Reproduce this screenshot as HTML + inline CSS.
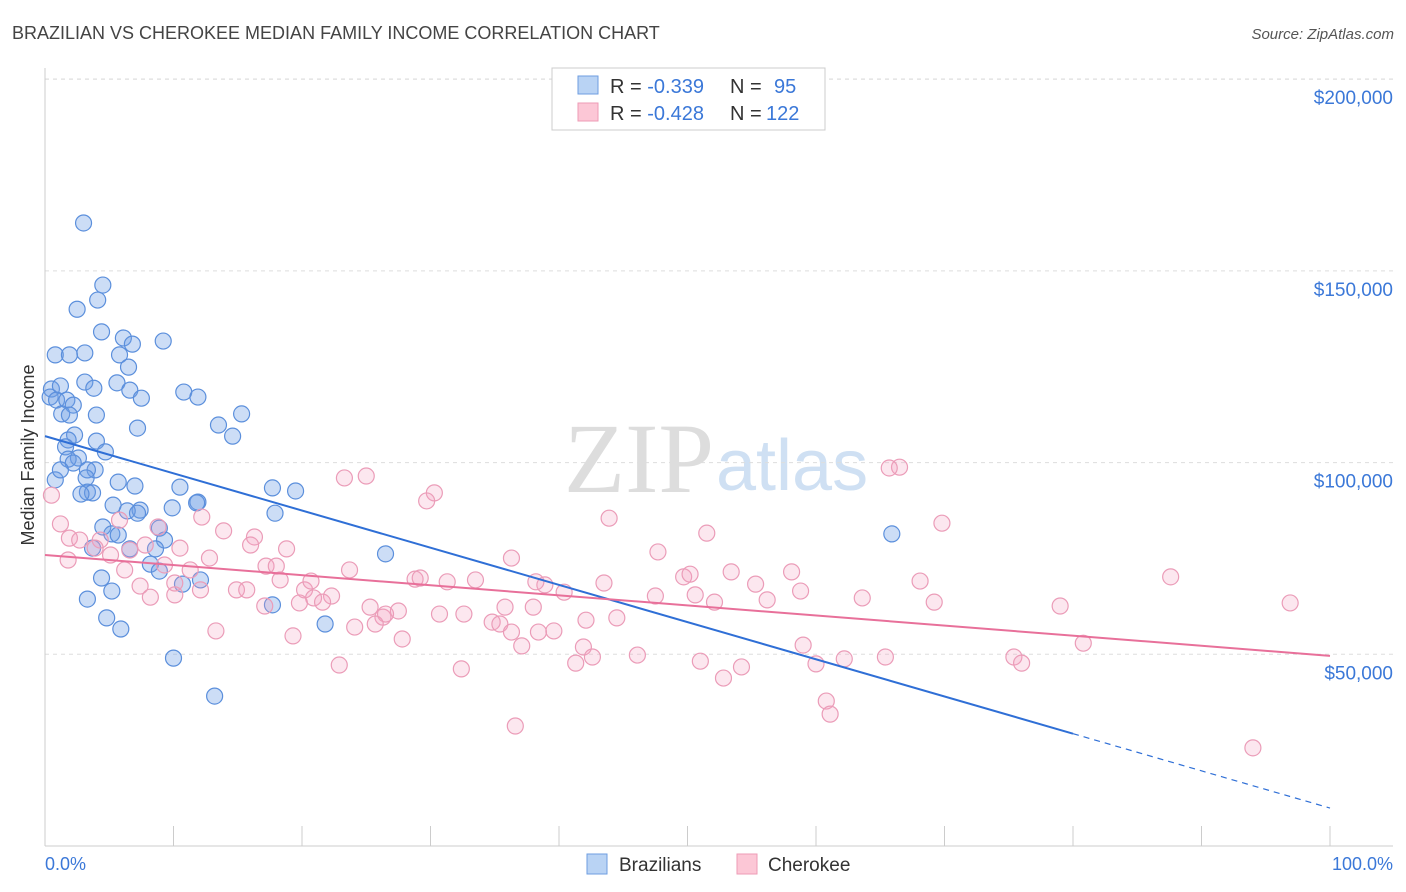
<!DOCTYPE html>
<html><head><meta charset="utf-8"><style>
body{margin:0;background:#fff;font-family:"Liberation Sans",sans-serif;}
svg{display:block}
</style></head><body>
<svg width="1406" height="892" xmlns="http://www.w3.org/2000/svg" font-family="Liberation Sans, sans-serif">
<text x="12" y="39" font-size="18" fill="#444">BRAZILIAN VS CHEROKEE MEDIAN FAMILY INCOME CORRELATION CHART</text>
<text x="1394" y="39" font-size="15" fill="#555" font-style="italic" text-anchor="end">Source: ZipAtlas.com</text>
<text x="714" y="492" font-size="100" fill="#ddd" text-anchor="end" font-family="Liberation Serif, serif">ZIP</text>
<text x="716" y="490" font-size="72" fill="#cfe0f3">atlas</text>
<g id="grid"></g>
<g id="axes"></g>
<g id="pts"></g>
<g id="trend"></g>
<text transform="translate(34,455) rotate(-90)" font-size="18" fill="#333" text-anchor="middle">Median Family Income</text>
<text x="45" y="870" font-size="18" fill="#3b78d8">0.0%</text>
<text x="1393" y="870" font-size="18" fill="#3b78d8" text-anchor="end">100.0%</text>
<g>
<rect x="552" y="68" width="273" height="62" fill="#fff" stroke="#ccc"/>
<rect x="578" y="76" width="20" height="18" fill="#b9d3f4" stroke="#6e9ee0"/>
<rect x="578" y="103" width="20" height="18" fill="#fcc7d6" stroke="#ee9bb6"/>
<text x="610" y="93" font-size="20" fill="#333">R = <tspan fill="#3b78d8">-0.339</tspan><tspan x="730">N = </tspan><tspan x="774" fill="#3b78d8">95</tspan></text>
<text x="610" y="120" font-size="20" fill="#333">R = <tspan fill="#3b78d8">-0.428</tspan><tspan x="730">N = </tspan><tspan x="766" fill="#3b78d8">122</tspan></text>
</g>
<g>
<rect x="587" y="854" width="20" height="20" fill="#b9d3f4" stroke="#6e9ee0"/>
<text x="619" y="871" font-size="19" fill="#333">Brazilians</text>
<rect x="737" y="854" width="20" height="20" fill="#fcc7d6" stroke="#ee9bb6"/>
<text x="768" y="871" font-size="19" fill="#333">Cherokee</text>
</g>
</svg>
<script>
const yTicks=[50000,100000,150000,200000];
const yTickLabels=["$50,000","$100,000","$150,000","$200,000"];
const bluePct=[3.0,4.5,4.1,2.5,4.4,6.1,9.2,6.8,0.8,1.9,3.1,5.8,6.5,3.1,5.6,0.5,1.2,3.8,6.6,7.5,10.8,11.9,0.4,0.9,1.7,2.2,1.3,1.9,4.0,15.3,13.5,7.2,14.6,2.3,1.8,4.0,1.6,4.7,2.6,1.8,2.2,3.9,3.3,3.2,5.7,7.0,10.5,17.7,19.5,3.3,3.7,2.8,11.9,11.8,5.3,7.4,6.4,9.9,7.2,17.9,4.5,8.9,5.2,5.7,9.3,3.7,6.6,8.6,26.5,65.9,8.2,8.9,10.7,12.1,4.4,5.2,3.3,17.7,4.8,5.9,21.8,10.0,13.2,0.8,1.2];
const blueVal=[162.5,146.3,142.4,140.0,134.1,132.5,131.7,130.9,128.1,128.1,128.6,128.1,124.9,121.0,120.8,119.2,120.0,119.4,118.9,116.8,118.4,117.1,117.1,116.3,116.3,115.0,112.7,112.4,112.4,112.7,109.8,109.0,106.9,107.2,105.9,105.6,104.1,102.8,101.2,100.9,99.9,98.1,98.1,96.0,94.9,93.9,93.6,93.4,92.6,92.3,92.1,91.8,89.7,89.5,88.9,87.6,87.4,88.2,86.8,86.8,83.2,82.9,81.4,81.1,79.8,77.7,77.5,77.5,76.2,81.4,73.5,71.7,68.3,69.4,69.9,66.5,64.4,62.9,59.5,56.6,57.9,49.0,39.1,95.5,98.1];
const pinkPct=[66.5,65.7,23.3,25.0,30.3,29.7,69.8,43.9,51.5,1.2,1.9,2.7,4.3,8.8,12.2,13.9,16.3,5.8,7.8,16.0,18.8,47.7,36.3,3.9,6.6,10.5,6.2,9.3,11.3,12.8,17.2,18.0,23.7,53.4,58.1,87.6,68.1,38.9,43.5,49.7,50.2,55.3,7.4,10.1,14.9,15.7,18.3,20.2,20.7,20.9,22.3,28.8,29.2,31.3,33.5,38.2,40.4,47.5,50.6,52.1,56.2,58.8,63.6,69.2,79.0,96.9,17.1,19.8,21.6,25.3,26.3,27.5,30.7,32.6,35.8,38.0,34.8,35.4,42.1,44.5,26.5,24.1,25.7,13.3,19.3,27.8,36.3,38.4,39.6,37.1,41.9,42.6,46.1,59.0,80.8,75.4,76.0,65.4,62.2,60.0,41.3,51.0,54.2,52.8,22.9,32.4,60.8,61.1,36.6,94.0,0.5,1.8,5.1,12.1,10.1,8.2];
const pinkVal=[98.8,98.6,96.0,96.5,92.1,90.0,84.2,85.5,81.6,84.0,80.3,79.8,79.8,83.2,85.8,82.2,80.6,85.0,78.5,78.5,77.5,76.7,75.1,77.7,77.2,77.7,72.0,73.3,72.0,75.1,73.0,73.0,72.0,71.5,71.5,70.2,69.1,68.1,68.6,70.2,70.9,68.3,67.8,65.5,66.8,66.8,69.4,66.8,69.1,64.7,65.2,69.6,69.9,68.9,69.4,68.9,66.2,65.2,65.5,63.6,64.2,66.5,64.7,63.6,62.6,63.4,62.6,63.4,63.6,62.3,59.7,61.3,60.5,60.5,62.3,62.3,58.4,57.9,58.9,59.5,60.5,57.1,57.9,56.1,54.8,54.0,55.8,55.8,56.1,52.2,51.9,49.3,49.8,52.4,52.9,49.3,47.7,49.3,48.8,47.5,47.7,48.2,46.7,43.8,47.2,46.2,37.8,34.4,31.3,25.6,91.5,74.6,75.9,66.8,68.6,64.9];
const blueTrend=[106.9,9.9]; const blueSolidEnd=80;
const pinkTrend=[75.9,49.6];
const X=p=>45+p*12.85, Y=v=>846-v*0.003834;
const NS="http://www.w3.org/2000/svg";
function mk(t,a,parent){const e=document.createElementNS(NS,t);for(const k in a)e.setAttribute(k,a[k]);document.getElementById(parent).appendChild(e);return e;}
yTicks.forEach((v,i)=>{
 const l=mk('line',{x1:45,x2:1393,y1:Y(v),y2:Y(v),stroke:'#ddd','stroke-dasharray':'4,4'},'grid');
 
 
 const t=mk('text',{x:1393,y:Y(v)+25,'font-size':19,fill:'#3b78d8','text-anchor':'end'},'grid');
 t.textContent=yTickLabels[i];
 
 
});
const topLine=mk('line',{x1:45,x2:1393,y1:79,y2:79,stroke:'#ddd','stroke-dasharray':'4,4'},'grid');


const ya=mk('line',{x1:45,x2:45,y1:68,y2:846,stroke:'#ccc'},'axes');


const xa=mk('line',{x1:45,x2:1393,y1:846,y2:846,stroke:'#ccc'},'axes');


for(let i=0;i<=10;i++){const t=mk('line',{x1:X(i*10),x2:X(i*10),y1:826,y2:846,stroke:'#ccc'},'axes');
 
 }
bluePct.forEach((p,i)=>{const c=mk('circle',{cx:X(p),cy:Y(blueVal[i]*1000),r:8,fill:'rgba(110,158,230,0.35)',stroke:'#5b8fdc','stroke-width':1.2},'pts');
 
 });
pinkPct.forEach((p,i)=>{const c=mk('circle',{cx:X(p),cy:Y(pinkVal[i]*1000),r:8,fill:'rgba(245,160,190,0.25)',stroke:'#eb9cb8','stroke-width':1.2},'pts');
 
 });
const bv=p=>(blueTrend[0]+(blueTrend[1]-blueTrend[0])*p/100)*1000;
const b1=mk('line',{x1:X(0),y1:Y(bv(0)),x2:X(blueSolidEnd),y2:Y(bv(blueSolidEnd)),stroke:'#2f6fd6','stroke-width':2},'trend');


const b2=mk('line',{x1:X(blueSolidEnd),y1:Y(bv(blueSolidEnd)),x2:X(100),y2:Y(bv(100)),stroke:'#2f6fd6','stroke-width':1.2,'stroke-dasharray':'6,5'},'trend');


const p1=mk('line',{x1:X(0),y1:Y(pinkTrend[0]*1000),x2:X(100),y2:Y(pinkTrend[1]*1000),stroke:'#e8709a','stroke-width':2},'trend');


</script>
</body></html>
